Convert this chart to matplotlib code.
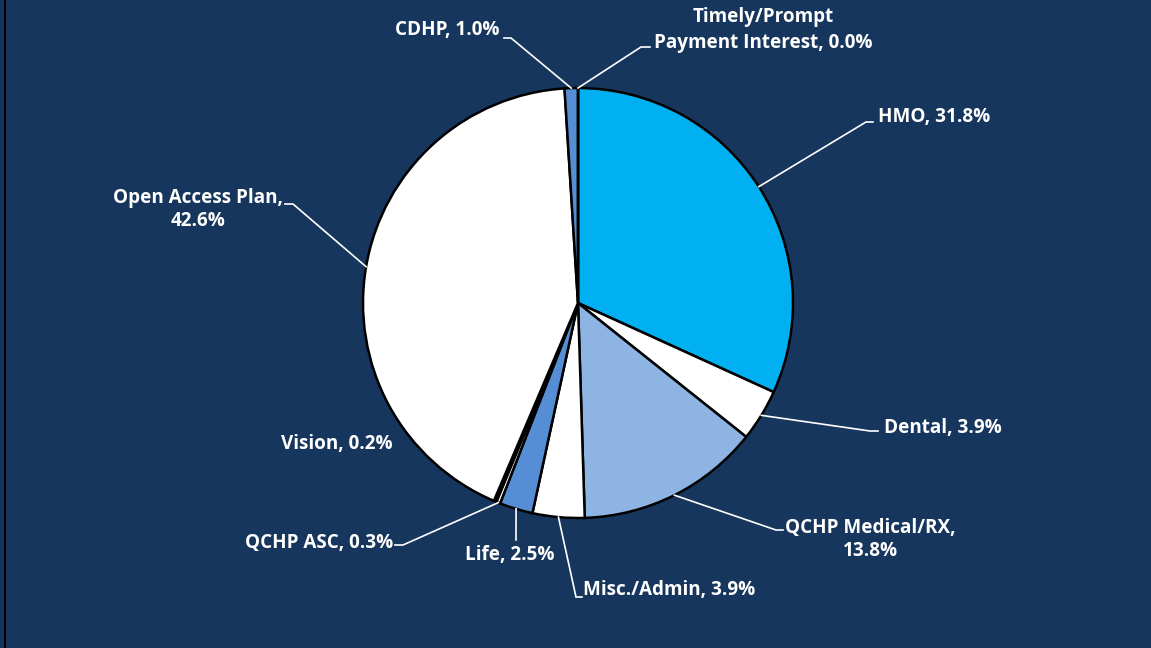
import numpy as np
import matplotlib.pyplot as plt

# slice data, clockwise from 12 o'clock
labels = ["HMO", "Dental", "QCHP Medical/RX", "Misc./Admin", "Life",
          "QCHP ASC", "Vision", "Open Access Plan", "CDHP",
          "Timely/Prompt\nPayment Interest"]
shares = [31.8, 3.9, 13.8, 3.9, 2.5, 0.3, 0.2, 42.6, 1.0, 0.0]
colors = ["#00B0F0", "#FFFFFF", "#8DB4E2", "#FFFFFF", "#558ED5",
          "#FFFFFF", "#0D0D0D", "#FFFFFF", "#558ED5", "#558ED5"]

label_text = [
    "HMO, 31.8%", "Dental, 3.9%", "QCHP Medical/RX,\n13.8%", "Misc./Admin, 3.9%",
    "Life, 2.5%", "QCHP ASC, 0.3%", "Vision, 0.2%", "Open Access Plan,\n42.6%",
    "CDHP, 1.0%", "Timely/Prompt\nPayment Interest, 0.0%",
]

W, H = 1151, 648
bg = "#17365D"
fig = plt.figure(figsize=(W / 100, H / 100), dpi=100, facecolor=bg)
ax = fig.add_axes([0, 0, 1, 1])

cx, cy, R = 578, H - 303, 215
wedges, _ = ax.pie(shares, colors=colors, startangle=90, counterclock=False,
                   center=(cx, cy), radius=R, frame=True,
                   wedgeprops=dict(edgecolor="black", linewidth=1.8))
ax.set_xlim(0, W)
ax.set_ylim(0, H)
ax.set_aspect("equal")
ax.axis("off")

# (text x, text y, ha, elbow x, elbow y, tail dx, line spacing) in image pixels
layout = [
    (878, 117, "left", 866, 122, 7, 1.2),
    (884, 428, "left", 870, 431, 8, 1.2),
    (870, 540, "center", 776, 530, 7, 1.2),
    (583, 590, "left", 576, 597, 6, 1.2),
    (510, 555, "center", 516, 540, 0, 1.2),
    (393, 543, "right", 403, 545, -8, 1.2),
    (393, 444, "right", None, None, 0, 1.2),
    (198, 209, "center", 293, 204, -8, 1.2),
    (500, 30, "right", 511, 38, -7, 1.2),
    (763, 30, "center", 641, 47, 9, 1.4),
]

for w, txt, (tx, ty, ha, ex, ey, dx, ls) in zip(wedges, label_text, layout):
    ang = np.deg2rad((w.theta1 + w.theta2) / 2)
    px, py = cx + R * np.cos(ang), cy + R * np.sin(ang)
    if ex is not None:
        ax.plot([px, ex, ex + dx], [py, H - ey, H - ey], color="white", lw=1.2,
                solid_joinstyle="miter", zorder=5)
    ax.text(tx, H - ty, txt, ha=ha, va="center", color="white", fontsize=13.6,
            fontweight="bold", family=["Open Sans", "DejaVu Sans"],
            linespacing=ls, zorder=6)

fig.add_artist(plt.Line2D([4.5 / W, 4.5 / W], [0, 1], color="black", lw=1.5))
fig.savefig("out.png", dpi=100, facecolor=bg)
